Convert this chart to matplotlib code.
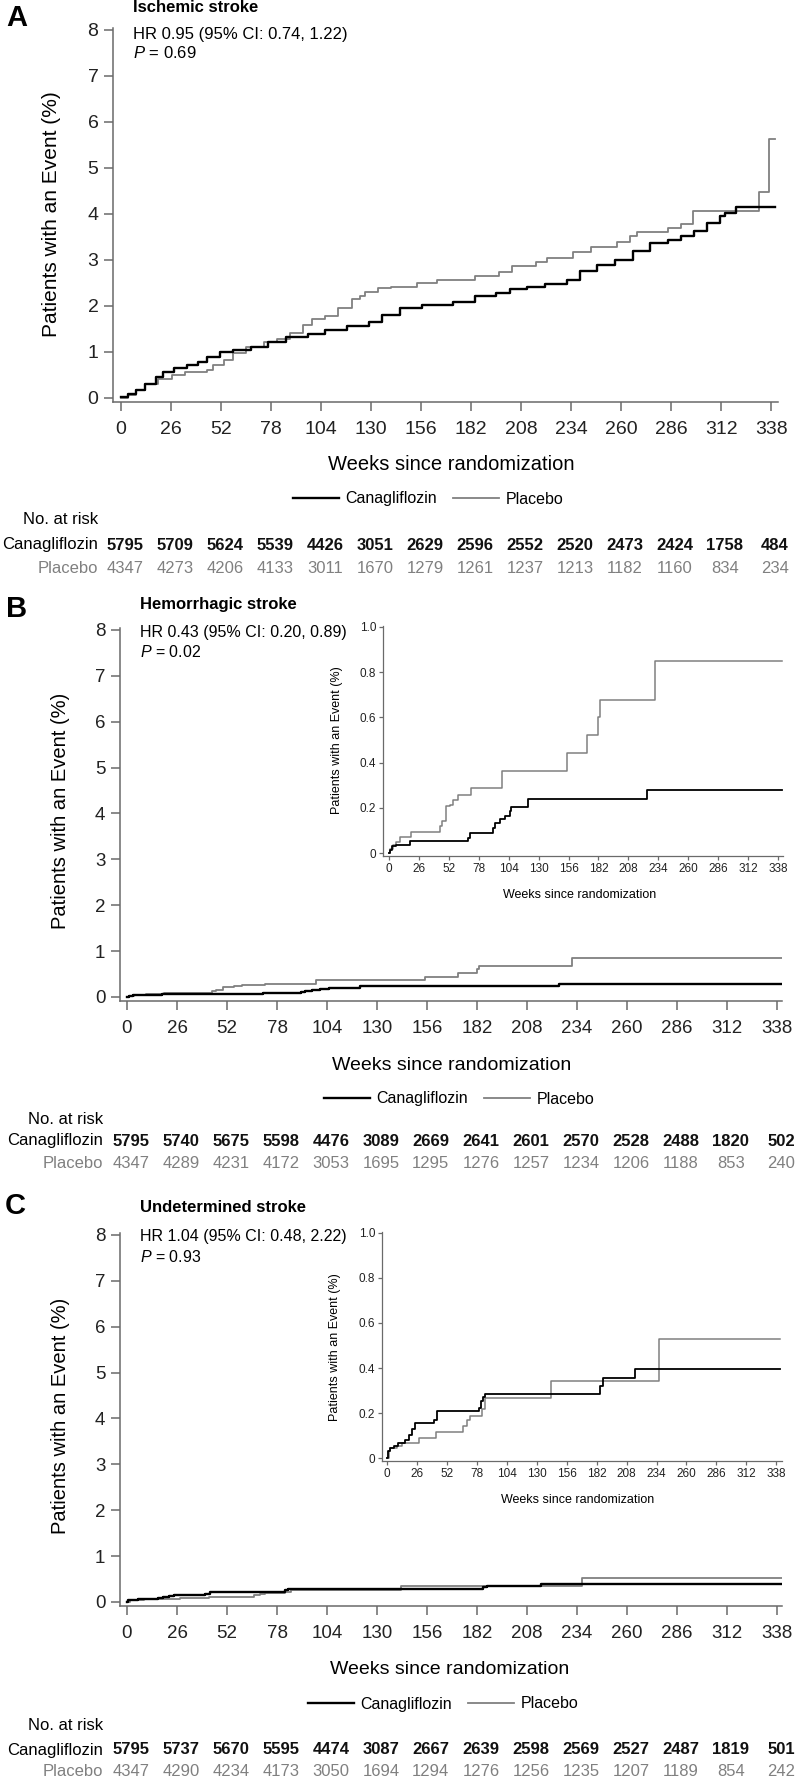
import matplotlib
matplotlib.use("Agg")
import matplotlib.pyplot as plt
from matplotlib.lines import Line2D
from matplotlib.transforms import blended_transform_factory

plt.rcParams["font.family"] = ["Liberation Sans", "DejaVu Sans"]
plt.rcParams["mathtext.fontset"] = "custom"
plt.rcParams["mathtext.it"] = "Liberation Sans:italic"
plt.rcParams["mathtext.rm"] = "Liberation Sans"

# ---- data ----
weeks = [0, 26, 52, 78, 104, 130, 156, 182, 208, 234, 260, 286, 312, 338]

# A: ischemic stroke (cumulative %, step curves)
a_cana_wk = [0, 3.4, 8, 12.6, 18.3, 21.7, 27.4, 34.2, 40, 44.5, 51.4, 58.2, 67.4, 76.5,
             85.6, 97, 106.2, 117.6, 129, 135.8, 145, 156.4, 172.4, 183.8, 195.2, 202,
             211.2, 220.3, 231.7, 238.6, 247.7, 256.8, 266, 275.1, 284.2, 291.1, 297.9,
             304.8, 311.6, 313.9, 319.6, 340]
a_cana_val = [0.02, 0.09, 0.17, 0.3, 0.46, 0.57, 0.64, 0.71, 0.78, 0.89, 0.99, 1.04, 1.11,
              1.22, 1.33, 1.38, 1.48, 1.57, 1.66, 1.80, 1.95, 2.01, 2.09, 2.22, 2.27, 2.36,
              2.42, 2.47, 2.57, 2.75, 2.88, 3.0, 3.2, 3.36, 3.44, 3.52, 3.62, 3.8, 3.95,
              4.03, 4.14, 4.14]
a_plac_wk = [0, 3.4, 8, 12.6, 19.4, 26.3, 33.1, 44.5, 47.9, 53.7, 58.2, 65.1, 74.2, 81,
             87.9, 94.7, 99.3, 106.2, 112.8, 119.9, 124.4, 126.7, 133.6, 140.4, 154.1,
             164.4, 183.8, 196.3, 203.2, 215.8, 221.5, 235.2, 244.3, 258, 264.8, 268.3,
             284.2, 291.1, 297.3, 331.7, 336.7, 340]
a_plac_val = [0.0, 0.06, 0.17, 0.31, 0.42, 0.49, 0.57, 0.60, 0.71, 0.82, 0.97, 1.11, 1.22,
              1.29, 1.40, 1.58, 1.71, 1.79, 1.95, 2.14, 2.22, 2.31, 2.40, 2.42, 2.49, 2.57,
              2.65, 2.73, 2.86, 2.95, 3.04, 3.18, 3.29, 3.38, 3.53, 3.60, 3.69, 3.79, 4.07,
              4.47, 5.64, 5.64]
a_cana_risk = [5795, 5709, 5624, 5539, 4426, 3051, 2629, 2596, 2552, 2520, 2473, 2424, 1758, 484]
a_plac_risk = [4347, 4273, 4206, 4133, 3011, 1670, 1279, 1261, 1237, 1213, 1182, 1160, 834, 234]

# B: hemorrhagic stroke
b_cana_wk = [0, 1, 3, 5.8, 18, 68.7, 70.6, 90.4, 92.5, 96.2, 100.6, 105, 106, 121, 224.5, 341.5]
b_cana_val = [0.0, 0.015, 0.03, 0.037, 0.052, 0.066, 0.088, 0.11, 0.133, 0.15, 0.165, 0.184,
              0.202, 0.238, 0.28, 0.28]
b_plac_wk = [0, 1, 3.5, 5.8, 9.9, 19.4, 44, 46.4, 49.9, 52.8, 55.7, 60, 71.6, 98.3, 154.9,
             172.3, 182, 183.2, 231.4, 341.5]
b_plac_val = [0.0, 0.02, 0.035, 0.05, 0.07, 0.095, 0.118, 0.14, 0.206, 0.214, 0.236, 0.258,
              0.288, 0.364, 0.442, 0.52, 0.60, 0.678, 0.848, 0.848]
b_cana_risk = [5795, 5740, 5675, 5598, 4476, 3089, 2669, 2641, 2601, 2570, 2528, 2488, 1820, 502]
b_plac_risk = [4347, 4289, 4231, 4172, 3053, 1695, 1295, 1276, 1257, 1234, 1206, 1188, 853, 240]

# C: undetermined stroke
c_cana_wk = [0, 0.6, 2.3, 5.8, 10, 16, 18.8, 21.7, 24.6, 40.5, 43.4, 80.3, 82, 83.5, 85.2,
             185, 187.3, 215.3, 341]
c_cana_val = [0.0, 0.03, 0.044, 0.052, 0.067, 0.081, 0.104, 0.129, 0.156, 0.17, 0.207, 0.222,
              0.252, 0.27, 0.284, 0.318, 0.356, 0.396, 0.396]
c_plac_wk = [0, 1.4, 2.9, 8.7, 13, 27.5, 42.7, 65.9, 69.3, 71.7, 82.3, 85.2, 142.5, 236.4, 341]
c_plac_val = [0.0, 0.03, 0.044, 0.052, 0.067, 0.089, 0.114, 0.141, 0.17, 0.188, 0.218, 0.267,
              0.344, 0.53, 0.53]
c_cana_risk = [5795, 5737, 5670, 5595, 4474, 3087, 2667, 2639, 2598, 2569, 2527, 2487, 1819, 501]
c_plac_risk = [4347, 4290, 4234, 4173, 3050, 1694, 1294, 1276, 1256, 1235, 1207, 1189, 854, 242]

GRAY = "#808080"
SPINE = "#6a6a6a"

W, H = 800, 1780
fig = plt.figure(figsize=(W / 100, H / 100), dpi=100)


def box(l, t, r, b):
    # pixel box (image coords, y down) -> figure fraction
    return [l / W, 1 - b / H, (r - l) / W, (b - t) / H]


def ftext(x, y, s, **kw):
    fig.text(x / W, 1 - y / H, s, **kw)


def style_axes(ax, tsize, ticklen, lw):
    for side in ["top", "right"]:
        ax.spines[side].set_visible(False)
    for side in ["left", "bottom"]:
        ax.spines[side].set_color(SPINE)
        ax.spines[side].set_linewidth(lw)
    ax.tick_params(colors=SPINE, length=ticklen, width=lw, labelcolor="#222222",
                   labelsize=tsize)


def main_panel(rect, xl, cana, plac, tsize):
    ax = fig.add_axes(rect)
    ax.plot(plac[0], plac[1], drawstyle="steps-post", color=GRAY, lw=1.3)
    ax.plot(cana[0], cana[1], drawstyle="steps-post", color="black", lw=1.7)
    ax.set_xlim(xl)
    ax.set_ylim(-0.09, 8.05)
    ax.set_xticks(weeks)
    ax.set_yticks(range(0, 9))
    style_axes(ax, tsize, 6.5, 1.1)
    ax.tick_params(axis="x", pad=7)
    ax.tick_params(axis="y", pad=4)
    return ax


def inset_panel(rect, xl, cana, plac):
    ax = fig.add_axes(rect)
    ax.plot(plac[0], plac[1], drawstyle="steps-post", color=GRAY, lw=1.1)
    ax.plot(cana[0], cana[1], drawstyle="steps-post", color="black", lw=1.3)
    ax.set_xlim(xl)
    ax.set_ylim(-0.013, 1.004)
    ax.set_xticks(weeks)
    ax.set_yticks([0, 0.2, 0.4, 0.6, 0.8, 1.0])
    ax.set_yticklabels(["0", "0.2", "0.4", "0.6", "0.8", "1.0"])
    style_axes(ax, 8.5, 3, 0.9)
    ax.tick_params(axis="x", pad=2)
    ax.tick_params(axis="y", pad=2)
    return ax


def risk_table(ax, y_head, y_c, y_p, cana_risk, plac_risk, lab_x, size=12):
    tr = blended_transform_factory(ax.transData, fig.transFigure)
    ftext(lab_x, y_head, "No. at risk", ha="right", va="center", fontsize=size)
    ftext(lab_x, y_c, "Canagliflozin", ha="right", va="center", fontsize=size)
    ftext(lab_x, y_p, "Placebo", ha="right", va="center", fontsize=size, color=GRAY)
    for wk, nc, npl in zip(weeks, cana_risk, plac_risk):
        ax.text(wk + 2, 1 - y_c / H, str(nc), transform=tr, ha="center", va="center",
                fontsize=size, fontweight="bold", color="#111111")
        ax.text(wk + 2, 1 - y_p / H, str(npl), transform=tr, ha="center", va="center",
                fontsize=size, color=GRAY)


def legend(xc, y, size):
    handles = [Line2D([], [], color="black", lw=1.7), Line2D([], [], color=GRAY, lw=1.3)]
    fig.legend(handles, ["Canagliflozin", "Placebo"], loc="center",
               bbox_to_anchor=(xc / W, 1 - y / H), ncol=2, frameon=False,
               prop={"size": size}, handlelength=2.9,
               handletextpad=0.4, columnspacing=1.0)


# ===== Panel A =====
axA = main_panel(box(113, 27.7, 778, 402), (-4.16, 341.6),
                 (a_cana_wk, a_cana_val), (a_plac_wk, a_plac_val), 14)
ftext(17, 18, "A", fontsize=21, fontweight="bold", ha="center", va="center")
ftext(133, 8, "Ischemic stroke", fontsize=12, fontweight="bold", va="center")
ftext(133, 34, "HR 0.95 (95% CI: 0.74, 1.22)", fontsize=12, va="center")
ftext(133, 53, "$P$ = 0.69", fontsize=12, va="center")
ftext(52, 214, "Patients with an Event (%)", fontsize=15, rotation=90,
      ha="center", va="center")
ftext(451, 465, "Weeks since randomization", fontsize=14.5, ha="center", va="center")
legend(428, 499, 11.5)
risk_table(axA, 520, 545, 568, a_cana_risk, a_plac_risk, 98)

# ===== Panel B =====
axB = main_panel(box(120, 627.7, 782, 1001), (-3.64, 340.6),
                 (b_cana_wk, b_cana_val), (b_plac_wk, b_plac_val), 13.5)
ftext(17, 609, "B", fontsize=21, fontweight="bold", ha="center", va="center")
ftext(140, 605, "Hemorrhagic stroke", fontsize=12, fontweight="bold", va="center")
ftext(140, 632, "HR 0.43 (95% CI: 0.20, 0.89)", fontsize=11.5, va="center")
ftext(140, 652, "$P$ = 0.02", fontsize=11.5, va="center")
ftext(60, 811, "Patients with an Event (%)", fontsize=14.5, rotation=90,
      ha="center", va="center")
ftext(452, 1065, "Weeks since randomization", fontsize=14, ha="center", va="center")
legend(459, 1099, 11.5)
risk_table(axB, 1120, 1141, 1164, b_cana_risk, b_plac_risk, 103)

insB = inset_panel(box(383, 626, 783, 856), (-5.2, 342.3),
                   (b_cana_wk, b_cana_val), (b_plac_wk, b_plac_val))
ftext(337, 740, "Patients with an Event (%)", fontsize=9, rotation=90,
      ha="center", va="center")
ftext(580, 895, "Weeks since randomization", fontsize=9, ha="center", va="center")

# ===== Panel C =====
axC = main_panel(box(120, 1232.7, 782, 1606), (-3.64, 340.6),
                 (c_cana_wk, c_cana_val), (c_plac_wk, c_plac_val), 13.5)
ftext(15, 1206, "C", fontsize=21, fontweight="bold", ha="center", va="center")
ftext(140, 1208, "Undetermined stroke", fontsize=12, fontweight="bold", va="center")
ftext(140, 1237, "HR 1.04 (95% CI: 0.48, 2.22)", fontsize=11.5, va="center")
ftext(140, 1257, "$P$ = 0.93", fontsize=11.5, va="center")
ftext(60, 1416, "Patients with an Event (%)", fontsize=14.5, rotation=90,
      ha="center", va="center")
ftext(450, 1669, "Weeks since randomization", fontsize=14, ha="center", va="center")
legend(443, 1704, 11.5)
risk_table(axC, 1725, 1750, 1772, c_cana_risk, c_plac_risk, 103)

insC = inset_panel(box(382, 1232, 782, 1461), (-4.3, 342.9),
                   (c_cana_wk, c_cana_val), (c_plac_wk, c_plac_val))
ftext(335, 1347, "Patients with an Event (%)", fontsize=9, rotation=90,
      ha="center", va="center")
ftext(578, 1500, "Weeks since randomization", fontsize=9, ha="center", va="center")

fig.savefig("out.png", dpi=100)
